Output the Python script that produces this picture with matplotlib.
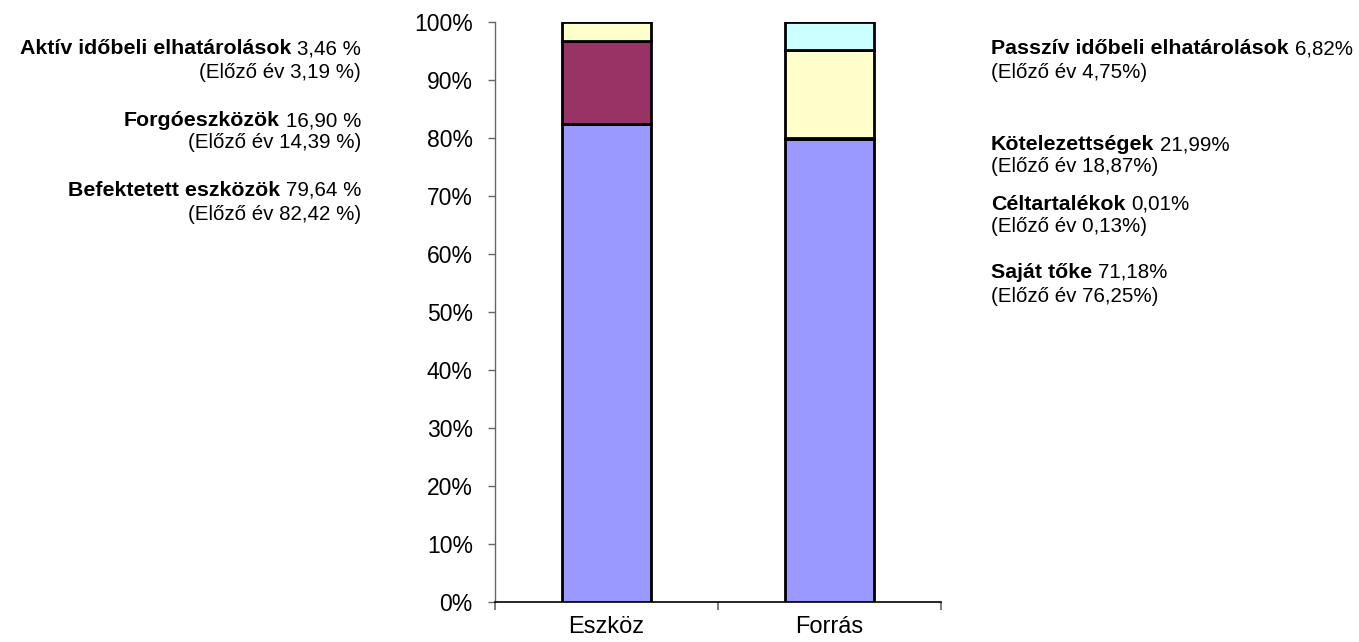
import matplotlib
matplotlib.use("Agg")
import matplotlib.pyplot as plt
from matplotlib.ticker import FuncFormatter, FixedLocator

plt.rcParams['font.family'] = ['Liberation Sans', 'DejaVu Sans']

categories = ["Eszköz", "Forrás"]
# stacked segments (bottom to top), percent
eszkoz_values = [82.42, 14.39, 3.19]
eszkoz_colors = ["#9999FF", "#993366", "#FFFFCC"]
forras_values = [79.90, 0.13, 15.22, 4.75]
forras_colors = ["#9999FF", "#993366", "#FFFFCC", "#CCFFFF"]
yticks = list(range(0, 101, 10))

left_labels = [
    ("Aktív időbeli elhatárolások", "3,46 %", "(Előző év 3,19 %)"),
    ("Forgóeszközök", "16,90 %", "(Előző év 14,39 %)"),
    ("Befektetett eszközök", "79,64 %", "(Előző év 82,42 %)"),
]
right_labels = [
    ("Passzív időbeli elhatárolások", "6,82%", "(Előző év 4,75%)"),
    ("Kötelezettségek", "21,99%", "(Előző év 18,87%)"),
    ("Céltartalékok", "0,01%", "(Előző év 0,13%)"),
    ("Saját tőke", "71,18%", "(Előző év 76,25%)"),
]

W, H = 1359, 642
fig = plt.figure(figsize=(W / 100, H / 100), dpi=100)
ax = fig.add_axes([495 / W, 1 - 602 / H, (941 - 495) / W, (602 - 22) / H])

bw = 0.40
for xi, vals, cols in [(0, eszkoz_values, eszkoz_colors), (1, forras_values, forras_colors)]:
    bottom = 0
    for v, c in zip(vals, cols):
        ax.bar(xi, v, bottom=bottom, width=bw, color=c, edgecolor="black", linewidth=2.0, zorder=3)
        bottom += v

ax.set_xlim(-0.5, 1.5)
ax.set_ylim(0, 100)
ax.set_yticks(yticks)
ax.yaxis.set_major_formatter(FuncFormatter(lambda v, p: f"{int(v)}%"))
ax.tick_params(axis="y", length=5, width=1, color="#666666", labelsize=16.5, pad=11)
ax.set_xticks([0, 1])
ax.set_xticklabels(categories)
ax.tick_params(axis="x", which="major", length=0, labelsize=17, pad=10)
ax.xaxis.set_minor_locator(FixedLocator([-0.5, 0.5, 1.5]))
ax.tick_params(axis="x", which="minor", length=6, width=1.2, color="#666666", direction="out")
for s in ["top", "right"]:
    ax.spines[s].set_visible(False)
ax.spines["left"].set_color("#666666")
ax.spines["left"].set_linewidth(1)
ax.spines["bottom"].set_color("black")
ax.spines["bottom"].set_linewidth(1.2)

fig.canvas.draw()
renderer = fig.canvas.get_renderer()
fs_n = 14.8
fs_b = 15.4
gap = 6

def px(x, y):
    return fig.transFigure.inverted().transform((x, H - y))

# left block, right aligned at x=361
left_y = [(49, 73), (121, 143), (190, 214)]
for (b, n, p), (y1, y2) in zip(left_labels, left_y):
    t = fig.text(*px(361, y1), n, ha="right", va="center", fontsize=fs_n)
    bb = t.get_window_extent(renderer)
    fig.text(*px(bb.x0 - gap, y1), b, ha="right", va="center", fontsize=fs_b, fontweight="bold")
    fig.text(*px(361, y2), p, ha="right", va="center", fontsize=fs_n)

# right block, left aligned at x=991
right_y = [(49, 73), (145, 167), (204, 226), (272, 296)]
for (b, n, p), (y1, y2) in zip(right_labels, right_y):
    t = fig.text(*px(991, y1), b, ha="left", va="center", fontsize=fs_b, fontweight="bold")
    bb = t.get_window_extent(renderer)
    fig.text(*px(bb.x1 + gap, y1), n, ha="left", va="center", fontsize=fs_n)
    fig.text(*px(991, y2), p, ha="left", va="center", fontsize=fs_n)

fig.savefig("out.png", dpi=100)
